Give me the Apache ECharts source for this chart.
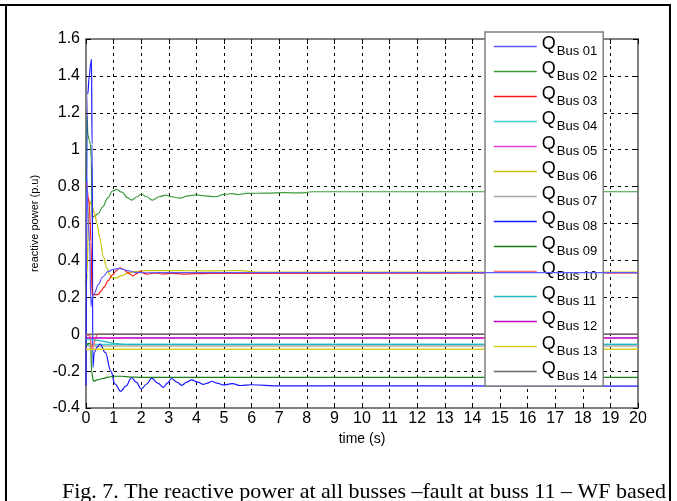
<!DOCTYPE html>
<html>
<head>
<meta charset="utf-8">
<script src="https://cdn.jsdelivr.net/npm/echarts@6/dist/echarts.min.js"></script>
<style>
html,body{margin:0;padding:0;background:#fff;}
#chart{width:677px;height:501px;}
</style>
</head>
<body>
<div id="chart"></div>
<script>
// ---- data (time in s, reactive power in p.u.) ----
var busNames = ['Bus 01','Bus 02','Bus 03','Bus 04','Bus 05','Bus 06','Bus 07','Bus 08','Bus 09','Bus 10','Bus 11','Bus 12','Bus 13','Bus 14'];
var xTicks = [0,1,2,3,4,5,6,7,8,9,10,11,12,13,14,15,16,17,18,19,20];
var yTicks = [-0.4,-0.2,0,0.2,0.4,0.6,0.8,1,1.2,1.4,1.6];

var bus01T = [0, 0.03, 0.08, 0.13, 0.18, 0.22, 0.3, 0.45, 0.6, 0.8, 1.0, 1.2, 1.5, 1.8, 2.2, 3, 20];
var bus01V = [0.33, 0.85, 0.6, 0.5, 0.15, 0.2, 0.22, 0.27, 0.31, 0.34, 0.352, 0.357, 0.345, 0.335, 0.333, 0.334, 0.334];

var bus02T = [0, 0.04, 0.07, 0.12, 0.16, 0.19, 0.22, 0.3, 0.45, 0.6, 0.8, 0.95, 1.1, 1.3, 1.5, 1.65, 1.85, 2.0, 2.2, 2.4, 2.65, 2.9, 3.1, 3.4, 3.7, 4.0, 4.3, 4.7, 5.0, 5.3, 5.5, 5.8, 6.5, 7.2, 7.8, 8.2, 20];
var bus02V = [0.75, 1.18, 1.08, 1.05, 1.03, 0.95, 0.63, 0.64, 0.655, 0.69, 0.74, 0.775, 0.785, 0.77, 0.74, 0.727, 0.745, 0.76, 0.745, 0.727, 0.745, 0.754, 0.745, 0.737, 0.75, 0.755, 0.75, 0.745, 0.758, 0.762, 0.757, 0.763, 0.765, 0.767, 0.766, 0.772, 0.772];

var bus03T = [0, 0.03, 0.08, 0.12, 0.18, 0.22, 0.3, 0.45, 0.55, 0.65, 0.8, 0.95, 1.1, 1.23, 1.35, 1.5, 1.7, 1.85, 1.96, 2.2, 2.5, 2.8, 3.1, 3.5, 4, 5, 20];
var bus03V = [0.82, 0.8, 0.74, 0.7, 0.5, 0.214, 0.214, 0.216, 0.235, 0.255, 0.29, 0.32, 0.345, 0.36, 0.352, 0.335, 0.316, 0.33, 0.339, 0.326, 0.332, 0.326, 0.33, 0.326, 0.328, 0.33, 0.332];

var bus04T = [0, 20];
var bus04V = [-0.055, -0.055];

var bus05T = [0, 20];
var bus05V = [-0.022, -0.022];

var bus06T = [0, 0.04, 0.1, 0.15, 0.2, 0.3, 0.4, 0.5, 0.63, 0.75, 0.85, 0.95, 1.1, 1.3, 1.5, 1.8, 2.2, 3, 4.5, 5.6, 6.2, 20];
var bus06V = [0.2, 0.33, 0.68, 0.72, 0.7, 0.66, 0.6, 0.52, 0.42, 0.36, 0.325, 0.305, 0.305, 0.318, 0.33, 0.34, 0.345, 0.345, 0.343, 0.345, 0.337, 0.337];

var bus07T = [0, 20];
var bus07V = [-0.064, -0.064];

var bus08T = [0, 0.02, 0.06, 0.12, 0.17, 0.2, 0.22, 0.25, 0.3, 0.4, 0.51, 0.7, 0.9, 1.05, 1.26, 1.45, 1.65, 1.82, 2.0, 2.2, 2.38, 2.6, 2.8, 2.95, 3.1, 3.3, 3.47, 3.65, 3.83, 4.05, 4.25, 4.4, 4.55, 4.75, 4.97, 5.3, 5.6, 6, 7, 8, 20];
var bus08V = [-0.28, -0.28, 1.3, 1.4, 1.47, 1.49, 1.03, -0.18, -0.1, -0.07, -0.053, -0.1, -0.2, -0.27, -0.31, -0.28, -0.235, -0.26, -0.297, -0.27, -0.238, -0.265, -0.288, -0.265, -0.24, -0.26, -0.277, -0.26, -0.248, -0.26, -0.272, -0.265, -0.255, -0.265, -0.275, -0.268, -0.278, -0.274, -0.28, -0.28, -0.281];

var bus09T = [0, 0.1, 0.17, 0.2, 0.27, 0.4, 0.6, 0.8, 1.0, 1.3, 1.6, 2, 20];
var bus09V = [-0.06, -0.05, -0.05, -0.2, -0.255, -0.248, -0.24, -0.233, -0.228, -0.228, -0.232, -0.234, -0.234];

var bus10T = [0, 0.04, 0.15, 0.2, 0.25, 0.32, 0.4, 20];
var bus10V = [0, -0.01, -0.01, -0.085, -0.085, -0.04, 0, 0];

var bus11T = [0, 0.2, 0.5, 1.0, 1.4, 20];
var bus11V = [-0.03, -0.03, -0.035, -0.05, -0.055, -0.055];

var bus12T = [0, 20];
var bus12V = [-0.02, -0.02];

var bus13T = [0, 20];
var bus13V = [-0.082, -0.082];

var bus14T = [0, 20];
var bus14V = [0, 0];

// ---- build ----
var seriesT = [bus01T, bus02T, bus03T, bus04T, bus05T, bus06T, bus07T, bus08T, bus09T, bus10T, bus11T, bus12T, bus13T, bus14T];
var seriesV = [bus01V, bus02V, bus03V, bus04V, bus05V, bus06V, bus07V, bus08V, bus09V, bus10V, bus11V, bus12V, bus13V, bus14V];
var colors = ['#5a5aff','#3c9c3c','#ff1a1a','#40d0d0','#e040e0','#c8c000','#a8a8a8','#1818ff','#168016','#ff7070','#20b8c0','#c000c0','#d8d020','#6a6a6a'];
var widths = [1.2,1.2,1.2,1.2,1.2,1.2,1.5,1.2,1.2,1.5,1.2,1.2,1.5,1.6];
var zs = [5,2,3,2,2,2,2,2,2,2,2,2,2,2];
var smooths = [0.3,0.4,0.3,0,0,0.3,0,0.4,0.3,0,0,0,0,0];

var series = busNames.map(function(n, k){
  return {
    name: n, type: 'line', xAxisIndex: 0, yAxisIndex: 0,
    data: seriesT[k].map(function(t, i){ return [t, seriesV[k][i]]; }),
    symbol: 'none', showSymbol: false, smooth: smooths[k], smoothMonotone: 'x', z: zs[k],
    lineStyle: {color: colors[k], width: widths[k]},
    itemStyle: {color: colors[k]},
    animation: false
  };
});

var gridStyle = {show: true, lineStyle: {color: '#000', type: [3, 4], width: 1}};
var axLine = {show: true, onZero: false, lineStyle: {color: '#808080', width: 2}};
var axTick = {show: true, inside: true, length: 5, lineStyle: {color: '#000', width: 1}};
var font = 'Liberation Sans, Arial, sans-serif';

var chart = echarts.init(document.getElementById('chart'), null, {renderer: 'canvas'});
chart.setOption({
  animation: false,
  backgroundColor: '#fff',
  grid: {left: 86, right: 39, top: 39, bottom: 93, containLabel: false},
  xAxis: [{
    type: 'value', min: xTicks[0], max: xTicks[xTicks.length-1], interval: 1, position: 'bottom',
    axisLine: axLine, axisTick: axTick, splitLine: gridStyle,
    axisLabel: {color: '#000', fontSize: 16, fontFamily: font, margin: 3},
    name: 'time (s)', nameLocation: 'middle', nameGap: 22,
    nameTextStyle: {color: '#000', fontSize: 14, fontFamily: font}
  }, {
    type: 'value', min: xTicks[0], max: xTicks[xTicks.length-1], interval: 1, position: 'top',
    axisLine: axLine, axisTick: axTick, splitLine: {show: false}, axisLabel: {show: false}
  }],
  yAxis: [{
    type: 'value', min: yTicks[0], max: yTicks[yTicks.length-1], interval: 0.2, position: 'left',
    axisLine: axLine, axisTick: axTick, splitLine: gridStyle,
    axisLabel: {color: '#000', fontSize: 16, fontFamily: font, margin: 6},
    name: 'reactive power (p.u)', nameLocation: 'middle', nameGap: 46, nameRotate: 90,
    nameTextStyle: {color: '#000', fontSize: 11, fontFamily: font}
  }, {
    type: 'value', min: yTicks[0], max: yTicks[yTicks.length-1], interval: 0.2, position: 'right',
    axisLine: axLine, axisTick: axTick, splitLine: {show: false}, axisLabel: {show: false}
  }],
  legend: {
    orient: 'vertical', left: 485, top: 32,
    padding: [3, 6, 3, 8], itemGap: 2, itemWidth: 43, itemHeight: 14,
    backgroundColor: '#fff', borderColor: '#808080', borderWidth: 1.5, borderRadius: 0,
    itemStyle: {opacity: 0, borderWidth: 0},
    lineStyle: {width: 1.5, opacity: 1},
    data: busNames,
    formatter: function(n){ return '{q|Q}{s|' + n + '}'; },
    textStyle: {
      color: '#000', fontFamily: font,
      rich: {
        q: {fontSize: 18, lineHeight: 18, padding: [0, 1, 5, 0], fontFamily: font, color: '#000'},
        s: {fontSize: 13, lineHeight: 13, padding: [10, 0, 0, 0], fontFamily: font, color: '#000'}
      }
    }
  },
  graphic: [
    {type: 'line', shape: {x1: 0, y1: 5, x2: 671, y2: 5}, style: {stroke: '#000', lineWidth: 2}, z: 10},
    {type: 'line', shape: {x1: 6, y1: 4, x2: 6, y2: 501}, style: {stroke: '#000', lineWidth: 2}, z: 10},
    {type: 'line', shape: {x1: 670, y1: 4, x2: 670, y2: 501}, style: {stroke: '#000', lineWidth: 2}, z: 10},
    {type: 'text', left: 62, top: 481, style: {text: 'Fig. 7. The reactive power at all busses \u2013fault at buss 11 \u2013 WF based', font: '22px "Liberation Serif", "Times New Roman", serif', fill: '#000'}, z: 10}
  ],
  series: series
});
</script>
</body>
</html>
